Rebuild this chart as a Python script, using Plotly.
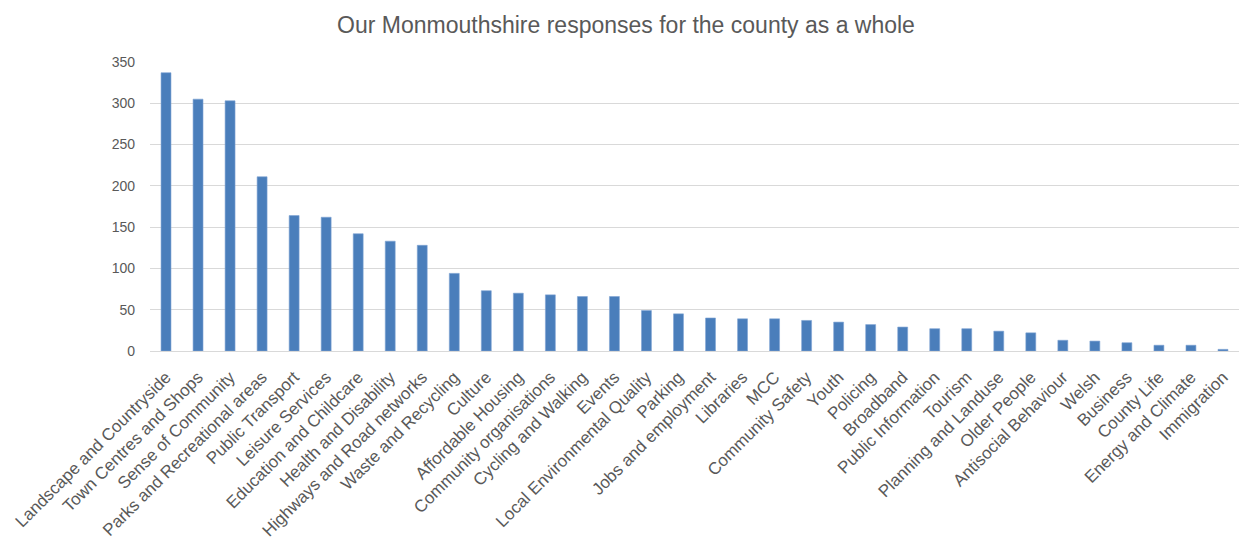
import plotly.graph_objects as go

categories = [
    "Landscape and Countryside", "Town Centres and Shops", "Sense of Community",
    "Parks and Recreational areas", "Public Transport", "Leisure Services",
    "Education and Childcare", "Health and Disability", "Highways and Road networks",
    "Waste and Recycling", "Culture", "Affordable Housing", "Community organisations",
    "Cycling and Walking", "Events", "Local Environmental Quality", "Parking",
    "Jobs and employment", "Libraries", "MCC", "Community Safety", "Youth",
    "Policing", "Broadband", "Public Information", "Tourism", "Planning and Landuse",
    "Older People", "Antisocial Behaviour", "Welsh", "Business", "County Life",
    "Energy and Climate", "Immigration",
]
responses = [337, 305, 303, 211, 164, 162, 142, 133, 128, 94, 73, 70, 68, 66, 66,
             49, 45, 40, 39, 39, 37, 35, 32, 29, 27, 27, 24, 22, 13, 12, 10, 7, 7, 2]
y_ticks = [0, 50, 100, 150, 200, 250, 300, 350]

TEXT = "#595959"
FONT = "Liberation Sans, Arial, sans-serif"

fig = go.Figure(go.Bar(
    x=categories, y=responses,
    marker=dict(color="#4a7ebb", line=dict(color="#7ea3d4", width=0.6)),
    width=0.31,
))

fig.update_layout(
    width=1240, height=550,
    paper_bgcolor="white", plot_bgcolor="white",
    margin=dict(l=150, r=1, t=62, b=199),
    title=dict(text="Our Monmouthshire responses for the county as a whole",
               x=626 / 1240, xanchor="center", y=1 - 25 / 550, yanchor="middle",
               font=dict(family=FONT, size=23, color=TEXT)),
    font=dict(family=FONT, color=TEXT),
    showlegend=False,
    bargap=0.69,
)
fig.update_xaxes(
    tickangle=-45, tickfont=dict(size=17, color=TEXT), showgrid=False,
    showline=False, ticks="", automargin=False, ticklabelstandoff=12,
)
fig.update_yaxes(
    range=[0, 350], tickvals=y_ticks, ticktext=[str(v) for v in y_ticks],
    showgrid=True, gridcolor="#d9d9d9", gridwidth=1, zeroline=True,
    zerolinecolor="#d9d9d9", zerolinewidth=1, tickfont=dict(size=14, color=TEXT),
    ticks="", ticklabelstandoff=14, automargin=False,
)

fig.write_html("out.html")
